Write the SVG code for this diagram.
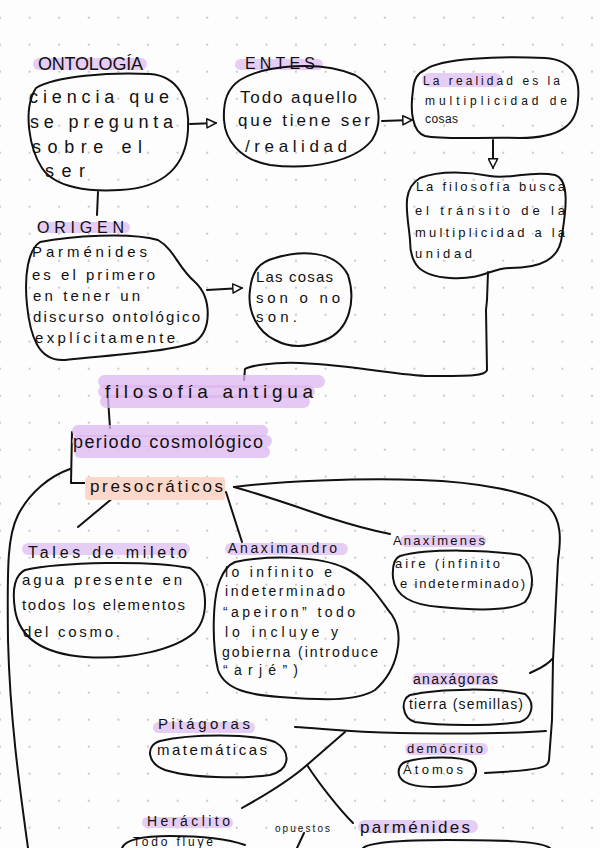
<svg xmlns="http://www.w3.org/2000/svg" width="600" height="848" viewBox="0 0 600 848">
<defs>
<pattern id="dots" x="-14.8" y="3.7" width="29.6" height="27" patternUnits="userSpaceOnUse">
<circle cx="14.8" cy="14" r="1" fill="#b8b8b8"/>
</pattern>
<marker id="tri" viewBox="0 0 12 12" refX="11" refY="6" markerWidth="11" markerHeight="11" markerUnits="userSpaceOnUse" orient="auto">
<path d="M1,1 L11,6 L1,11 Z" fill="#fff" stroke="#111" stroke-width="1.6" stroke-linejoin="round"/>
</marker>
<style>
.b{fill:none;stroke:#111;stroke-width:2;stroke-linejoin:round;stroke-linecap:round}
.c{fill:none;stroke:#111;stroke-width:2;stroke-linecap:round;stroke-linejoin:round}
.hl{fill:#e6cdf5}
.hl2{fill:#dcb6f0;opacity:0.75}
.hs{fill:#fcd8cb}
text{font-family:"Liberation Sans","DejaVu Sans",sans-serif;fill:#111}
.t18{font-size:18px}.t17{font-size:17px}.t16{font-size:16px}.t15{font-size:15px}.t14{font-size:14px}.t13{font-size:13px}.t12{font-size:12px}.t10{font-size:10px}
</style>
</defs>
<rect width="600" height="848" fill="#fdfdfd"/>
<rect width="600" height="848" fill="url(#dots)"/>

<g id="connectors">
<path class="c" d="M190 124 L216 123" marker-end="url(#tri)"/>
<path class="c" d="M382 121 L412 120" marker-end="url(#tri)"/>
<path class="c" d="M493 140 L493 168" marker-end="url(#tri)"/>
<path class="c" d="M207 290 L242 288" marker-end="url(#tri)"/>
<path class="c" d="M98 192 L97 215"/>
<path class="c" d="M488 272 L487 300 L486 310 L487 370 C486 376 470 376 430 376 C395 375 360 366 300 363 C270 362 250 366 245 369 L244 380"/>
<path class="c" d="M108 398 L110 428"/>
<path class="c" d="M72 432 L71 483 L86 483"/>
<path class="c" d="M70 469 C50 476 30 492 18 515 C8 535 7 560 8 640 C10 720 20 790 28 848"/>
<path class="c" d="M234 487 C280 481 360 478 420 480 C480 482 530 492 548 506 C562 520 561 540 558 560 L553 660 L552 720 L549 760 C548 768 540 770 485 773"/>
<path class="c" d="M553 658 C548 665 540 668 530 673"/>
<path class="c" d="M234 487 C270 497 300 508 330 518 C355 526 370 530 390 534"/>
<path class="c" d="M226 492 L242 542"/>
<path class="c" d="M114 497 L78 527"/>
<path class="c" d="M295 727 C320 728 345 732 400 733 C470 734 520 733 546 731"/>
<path class="c" d="M345 732 C330 745 315 758 307 765 C290 780 260 798 242 808"/>
<path class="c" d="M307 765 C320 785 340 810 353 823"/>
<path class="c" d="M304 833 L297 848"/>
</g>

<g id="ontologia">
<rect class="hl" x="33" y="58" width="114" height="12" rx="6"/>
<text class="t18" x="38" y="70" textLength="105" lengthAdjust="spacing">ONTOLOGÍA</text>
<path class="b" d="M36 88 C55 76 110 72 150 74 C178 76 190 100 188 130 C186 165 165 188 120 190 C90 192 55 188 42 168 C30 150 22 110 36 88 Z"/>
<text class="t18" x="29" y="103" textLength="140" lengthAdjust="spacing">ciencia que</text>
<text class="t18" x="30" y="128" textLength="143" lengthAdjust="spacing">se pregunta</text>
<text class="t18" x="32" y="153" textLength="110" lengthAdjust="spacing">sobre el</text>
<text class="t18" x="45" y="177" textLength="40" lengthAdjust="spacing">ser</text>
</g>

<g id="entes">
<rect class="hl" x="235" y="59" width="88" height="11" rx="5.5"/>
<text class="t16" x="245" y="69" textLength="70" lengthAdjust="spacing">ENTES</text>
<path class="b" d="M240 80 C265 65 320 60 355 75 C378 88 385 120 372 140 C355 162 310 170 270 165 C240 160 225 140 224 120 C223 100 228 88 240 80 Z"/>
<text class="t17" x="240" y="103" textLength="117" lengthAdjust="spacing">Todo aquello</text>
<text class="t17" x="238" y="126" textLength="132" lengthAdjust="spacing">que tiene ser</text>
<text class="t17" x="245" y="152" textLength="102" lengthAdjust="spacing">/realidad</text>
</g>

<g id="realidad">
<rect class="hl" x="422" y="73" width="80" height="14" rx="7"/>
<path class="b" d="M425 70 C440 58 500 56 545 58 C575 60 580 80 578 100 C577 125 560 138 520 138 C480 137 445 140 425 136 C412 132 410 110 413 90 C414 78 418 73 425 70 Z"/>
<text class="t12" x="423" y="85" textLength="137" lengthAdjust="spacing">La realidad es la</text>
<text class="t12" x="425" y="105" textLength="142" lengthAdjust="spacing">multiplicidad de</text>
<text class="t12" x="425" y="123" textLength="33" lengthAdjust="spacing">cosas</text>
</g>

<g id="filosofia-busca">
<path class="b" d="M420 178 C440 170 470 172 490 176 C510 180 530 170 555 175 C570 180 566 210 562 235 C560 260 540 268 510 268 C490 268 485 280 450 278 C420 276 410 265 410 240 C408 215 400 190 420 178 Z"/>
<text class="t13" x="416" y="191" textLength="149" lengthAdjust="spacing">La filosofía busca</text>
<text class="t13" x="415" y="215" textLength="150" lengthAdjust="spacing">el tránsito de la</text>
<text class="t13" x="415" y="237" textLength="150" lengthAdjust="spacing">multiplicidad a la</text>
<text class="t13" x="415" y="258" textLength="57" lengthAdjust="spacing">unidad</text>
</g>

<g id="origen">
<rect class="hl" x="37" y="222" width="93" height="11" rx="5.5"/>
<text class="t16" x="37" y="233" textLength="87" lengthAdjust="spacing">ORIGEN</text>
<path class="b" d="M40 242 C70 236 130 232 158 240 C175 250 178 268 195 282 C212 298 212 330 195 342 C170 352 110 355 65 360 C38 362 30 335 27 305 C24 275 28 250 40 242 Z"/>
<text class="t15" x="32" y="257" textLength="115" lengthAdjust="spacing">Parménides</text>
<text class="t15" x="32" y="280" textLength="123" lengthAdjust="spacing">es el primero</text>
<text class="t15" x="33" y="301" textLength="107" lengthAdjust="spacing">en tener un</text>
<text class="t15" x="33" y="322" textLength="167" lengthAdjust="spacing">discurso ontológico</text>
<text class="t15" x="35" y="343" textLength="140" lengthAdjust="spacing">explícitamente</text>
</g>

<g id="cosas">
<path class="b" d="M275 258 C300 250 335 250 348 275 C356 300 350 330 325 340 C305 348 290 348 275 340 C258 332 247 312 250 290 C252 270 260 262 275 258 Z"/>
<text class="t15" x="256" y="282" textLength="77" lengthAdjust="spacing">Las cosas</text>
<text class="t15" x="256" y="303" textLength="84" lengthAdjust="spacing">son o no</text>
<text class="t15" x="256" y="322" textLength="41" lengthAdjust="spacing">son.</text>
</g>

<g id="filosofia-antigua">
<rect class="hl2" x="98" y="375" width="227" height="13" rx="6.5"/>
<rect class="hl2" x="98" y="385" width="217" height="13" rx="6.5"/>
<rect class="hl2" x="100" y="395" width="210" height="13" rx="6.5"/>
<text style="font-size:19px" x="105" y="398" textLength="208" lengthAdjust="spacing">filosofía antigua</text>
</g>

<g id="periodo">
<rect class="hl2" x="72" y="425" width="196" height="12" rx="6"/>
<rect class="hl2" x="72" y="435" width="200" height="12" rx="6"/>
<rect class="hl2" x="74" y="446" width="196" height="12" rx="6"/>
<text style="font-size:18px" x="73" y="448" textLength="190" lengthAdjust="spacing">periodo cosmológico</text>
</g>

<g id="presocraticos">
<rect class="hs" x="85" y="477" width="140" height="23" rx="3"/>
<text class="t17" x="90" y="492" textLength="133" lengthAdjust="spacing">presocráticos</text>
</g>

<g id="tales">
<rect class="hl" x="22" y="543" width="168" height="12" rx="6"/>
<text class="t16" x="28" y="558" textLength="159" lengthAdjust="spacing">Tales de mileto</text>
<path class="b" d="M25 570 C60 562 150 560 190 568 C208 580 210 615 195 632 C175 650 130 660 85 657 C45 654 20 640 15 610 C12 590 15 575 25 570 Z"/>
<text class="t15" x="22" y="585" textLength="160" lengthAdjust="spacing">agua presente en</text>
<text class="t15" x="22" y="610" textLength="163" lengthAdjust="spacing">todos los elementos</text>
<text class="t15" x="23" y="637" textLength="97" lengthAdjust="spacing">del cosmo.</text>
</g>

<g id="anaximandro">
<rect class="hl" x="225" y="543" width="123" height="12" rx="6"/>
<text class="t14" x="228" y="553" textLength="109" lengthAdjust="spacing">Anaximandro</text>
<path class="b" d="M235 562 C270 555 320 556 345 568 C370 580 380 600 392 615 C405 635 398 670 375 690 C355 702 320 700 280 697 C250 695 225 690 218 670 C212 645 212 600 220 580 C224 570 228 565 235 562 Z"/>
<text class="t14" x="225" y="577" textLength="107" lengthAdjust="spacing">lo infinito e</text>
<text class="t14" x="225" y="596" textLength="120" lengthAdjust="spacing">indeterminado</text>
<text class="t14" x="223" y="617" textLength="132" lengthAdjust="spacing">“apeiron” todo</text>
<text class="t14" x="225" y="637" textLength="113" lengthAdjust="spacing">lo incluye y</text>
<text class="t14" x="222" y="657" textLength="156" lengthAdjust="spacing">gobierna (introduce</text>
<text class="t14" x="223" y="675" textLength="75" lengthAdjust="spacing">“arjé”)</text>
</g>

<g id="anaximenes">
<rect class="hl" x="400" y="535" width="86" height="12" rx="6"/>
<text class="t13" x="393" y="545" textLength="92" lengthAdjust="spacing">Anaxímenes</text>
<path class="b" d="M400 556 C430 548 490 550 520 555 C535 565 535 590 525 602 C510 612 470 610 440 607 C410 605 395 595 393 578 C392 565 395 558 400 556 Z"/>
<text class="t13" x="395" y="568" textLength="105" lengthAdjust="spacing">aire (infinito</text>
<text class="t13" x="400" y="588" textLength="125" lengthAdjust="spacing">e indeterminado)</text>
</g>

<g id="anaxagoras">
<rect class="hl" x="412" y="673" width="86" height="12" rx="6"/>
<text class="t14" x="413" y="684" textLength="85" lengthAdjust="spacing">anaxágoras</text>
<path class="b" d="M410 695 C440 688 500 688 525 694 C536 703 532 718 520 722 C490 726 440 726 415 722 C402 718 400 700 410 695 Z"/>
<text class="t14" x="409" y="709" textLength="114" lengthAdjust="spacing">tierra (semillas)</text>
</g>

<g id="pitagoras">
<rect class="hl" x="153" y="722" width="102" height="11" rx="5.5"/>
<text class="t15" x="158" y="729" textLength="92" lengthAdjust="spacing">Pitágoras</text>
<path class="b" d="M160 741 C190 734 250 733 275 742 C292 752 290 770 270 775 C240 779 190 778 165 770 C147 763 145 746 160 741 Z"/>
<text class="t15" x="157" y="755" textLength="110" lengthAdjust="spacing">matemáticas</text>
</g>

<g id="democrito">
<rect class="hl" x="405" y="743" width="83" height="12" rx="6"/>
<text class="t13" x="407" y="753" textLength="76" lengthAdjust="spacing">demócrito</text>
<path class="b" d="M405 762 C425 756 460 756 472 762 C480 770 476 782 460 785 C440 788 415 788 405 782 C396 777 397 766 405 762 Z"/>
<text class="t13" x="403" y="774" textLength="60" lengthAdjust="spacing">Átomos</text>
</g>

<g id="heraclito">
<rect class="hl" x="142" y="817" width="91" height="11" rx="5.5"/>
<text class="t14" x="147" y="826" textLength="83" lengthAdjust="spacing">Heráclito</text>
<path class="b" d="M122 848 C125 840 140 836 170 836 C200 836 225 838 245 845"/>
<text class="t12" x="133" y="846" textLength="80" lengthAdjust="spacing">Todo fluye</text>
</g>

<g id="opuestos">
<text class="t10" x="275" y="832" textLength="55" lengthAdjust="spacing">opuestos</text>
</g>

<g id="parmenides">
<rect class="hl" x="358" y="820" width="120" height="13" rx="6.5"/>
<text class="t17" x="360" y="833" textLength="110" lengthAdjust="spacing">parménides</text>
<path class="b" d="M363 848 C370 842 400 840 447 840 C500 840 540 841 550 848"/>
</g>
</svg>
